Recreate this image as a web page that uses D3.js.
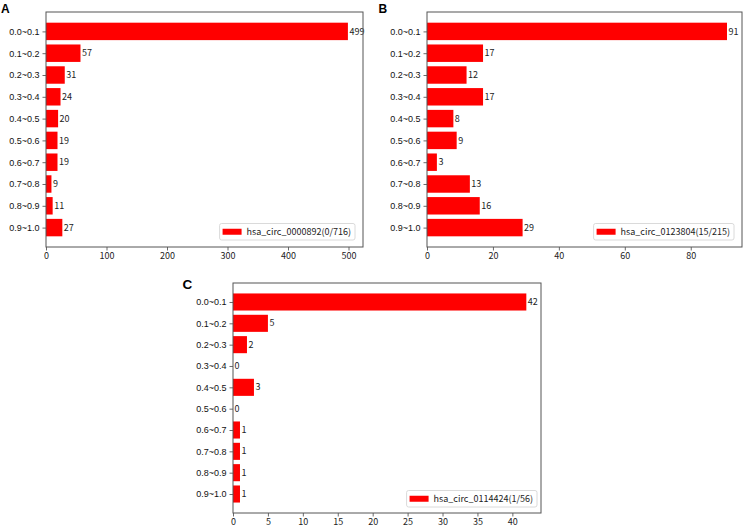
<!DOCTYPE html>
<html><head><meta charset="utf-8">
<script src="https://cdn.jsdelivr.net/npm/d3@7/dist/d3.min.js"></script>
<style>body{margin:0;background:#fff}svg{display:block}</style>
</head><body>
<svg id="chart" width="744" height="530"></svg>
<script>
const categories = ["0.0~0.1","0.1~0.2","0.2~0.3","0.3~0.4","0.4~0.5","0.5~0.6","0.6~0.7","0.7~0.8","0.8~0.9","0.9~1.0"];
const valuesA = [499,57,31,24,20,19,19,9,11,27];
const valuesB = [91,17,12,17,8,9,3,13,16,29];
const valuesC = [42,5,2,0,3,0,1,1,1,1];
const legendA = "hsa_circ_0000892(0/716)";
const legendB = "hsa_circ_0123804(15/215)";
const legendC = "hsa_circ_0114424(1/56)";
const ticksA = [0,100,200,300,400,500];
const ticksB = [0,20,40,60,80];
const ticksC = [0,5,10,15,20,25,30,35,40];
const panelLetters = ["A","B","C"];

const svg = d3.select("#chart");
const RED = "#ff0000";
const narrow = "'Noto Sans CJK SC', 'Noto Sans', sans-serif";
const sans = "'Liberation Sans', Arial, sans-serif";

function panel(cfg){
  const {values, ticks, legend, letter, left, top, right, bottom, lx, ly, lsize, legOffR, legOffB} = cfg;
  const g = svg.append("g");
  const xMax = d3.max(values)*1.05;
  const x = d3.scaleLinear().domain([0, xMax]).range([left, right]);
  const y = d3.scaleLinear().domain([-0.89, 9.89]).range([top, bottom]);
  const step = y(1)-y(0);

  // bars
  g.selectAll("rect.bar").data(values).join("rect")
    .attr("class","bar")
    .attr("x", x(0))
    .attr("y", (d,i)=>y(i-0.4))
    .attr("width", d=>x(d)-x(0))
    .attr("height", step*0.8)
    .attr("fill", RED);

  // value labels
  g.selectAll("text.val").data(values).join("text")
    .attr("class","val")
    .attr("x", d=>x(d)+1.5)
    .attr("y", (d,i)=>y(i))
    .attr("dy","0.35em")
    .attr("font-family", narrow).attr("font-size", 9).attr("fill","#222")
    .text(d=>d);

  // x axis
  const xa = g.append("g").attr("transform",`translate(0,${bottom})`)
    .call(d3.axisBottom(x).tickValues(ticks).tickSize(3.5).tickPadding(2).tickFormat(d3.format("d")));
  xa.select(".domain").remove();
  xa.selectAll("line").attr("stroke","#444").attr("stroke-width",0.8);
  xa.selectAll("text").attr("font-family", narrow).attr("font-size", 9).attr("fill","#222");

  // y axis
  const ya = g.append("g").attr("transform",`translate(${left},0)`)
    .call(d3.axisLeft(y).tickValues(d3.range(categories.length)).tickSize(3.5).tickPadding(3).tickFormat(i=>categories[i]));
  ya.select(".domain").remove();
  ya.selectAll("line").attr("stroke","#444").attr("stroke-width",0.8);
  ya.selectAll("text").attr("font-family", sans).attr("font-size", 9).attr("fill","#111");

  // frame
  g.append("rect").attr("x",left).attr("y",top).attr("width",right-left).attr("height",bottom-top)
    .attr("fill","none").attr("stroke","#555").attr("stroke-width",1);

  // legend
  const lg = g.append("g");
  const box = lg.append("rect");
  const txt = lg.append("text").attr("font-family", narrow).attr("font-size", 9).attr("fill","#222").text(legend);
  const tw = txt.node().getComputedTextLength();
  const bw = 3 + 19 + 5 + tw + 4;
  const bh = 16.5;
  const bx = right - legOffR - bw, by = bottom - legOffB - bh;
  box.attr("x",bx).attr("y",by).attr("width",bw).attr("height",bh).attr("rx",2)
    .attr("fill","#fff").attr("stroke","#d0d0d0").attr("stroke-width",0.8);
  lg.append("rect").attr("x",bx+3).attr("y",by+bh/2-3).attr("width",19).attr("height",6).attr("fill",RED);
  txt.attr("x",bx+3+19+5).attr("y",by+bh/2).attr("dy","0.35em");

  // panel letter
  svg.append("text").attr("x",lx).attr("y",ly).attr("font-family",sans).attr("font-weight","bold")
    .attr("font-size",lsize).attr("fill","#000").text(letter);
}

panel({values:valuesA, ticks:ticksA, legend:legendA, letter:panelLetters[0],
  left:46, top:12, right:363, bottom:247, lx:1, ly:13, lsize:12, legOffR:8, legOffB:7});
panel({values:valuesB, ticks:ticksB, legend:legendB, letter:panelLetters[1],
  left:427, top:12, right:742, bottom:247, lx:378.5, ly:13.3, lsize:12, legOffR:8, legOffB:7});
panel({values:valuesC, ticks:ticksC, legend:legendC, letter:panelLetters[2],
  left:233, top:283, right:541, bottom:513, lx:182.5, ly:288.5, lsize:13.5, legOffR:4, legOffB:6});
</script>
</body></html>
